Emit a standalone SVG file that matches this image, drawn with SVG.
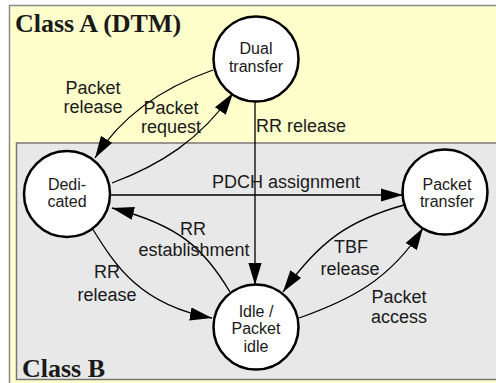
<svg xmlns="http://www.w3.org/2000/svg" width="496" height="383" viewBox="0 0 496 383">
<style>
.lbl{font-family:"Liberation Sans",Arial,sans-serif;font-size:18px;fill:#1a1a1a;text-anchor:middle}
.nd{font-family:"Liberation Sans",Arial,sans-serif;font-size:16px;fill:#1a1a1a;text-anchor:middle}
.ttl{font-family:"Liberation Serif","Times New Roman",serif;font-size:26px;font-weight:bold;fill:#1a1a1a}
.node{fill:#fff;stroke:#000;stroke-width:2.5}
.edge{fill:none;stroke:#000;stroke-width:1.3;marker-end:url(#ah)}
</style>
<defs>
<marker id="ah" markerUnits="userSpaceOnUse" markerWidth="22" markerHeight="14" viewBox="0 0 20 12" refX="20" refY="6" orient="auto">
<path d="M0,0 L20,6 L0,12 Z" fill="#000"/>
</marker>
</defs>
<rect x="9.5" y="5.5" width="500" height="400" fill="#ffffcc" stroke="#888" stroke-width="1.5"/>
<rect x="16.5" y="143" width="500" height="236.5" fill="#e8e8e8" stroke="#777" stroke-width="1.5"/>
<text class="ttl" x="15" y="32">Class A (DTM)</text>
<text class="ttl" x="22" y="377">Class B</text>
<g id="connectors">
<path class="edge" d="M213,70 C170,85 125,110 95,158"/>
<path class="edge" d="M112,183 C160,165 200,140 233,93"/>
<path class="edge" d="M255,102 L255,285"/>
<path class="edge" d="M111,195 L403,195"/>
<path class="edge" d="M404,205 C350,220 320,240 283,292"/>
<path class="edge" d="M299,318 C350,300 390,280 423,228"/>
<path class="edge" d="M230,292 C205,250 180,225 112,208"/>
<path class="edge" d="M92,228 C115,265 140,305 212,318"/>
</g>
<g id="labels">
<text class="lbl" x="93" y="94">Packet</text>
<text class="lbl" x="93" y="113">release</text>
<text class="lbl" x="171" y="114">Packet</text>
<text class="lbl" x="171" y="133">request</text>
<text class="lbl" x="256" y="132" style="text-anchor:start">RR release</text>
<text class="lbl" x="286" y="188">PDCH assignment</text>
<text class="lbl" x="193" y="235">RR</text>
<text class="lbl" x="194" y="256">establishment</text>
<text class="lbl" x="107" y="278">RR</text>
<text class="lbl" x="107" y="301">release</text>
<text class="lbl" x="351" y="253">TBF</text>
<text class="lbl" x="350" y="275">release</text>
<text class="lbl" x="399" y="303">Packet</text>
<text class="lbl" x="399" y="323">access</text>
</g>
<g id="dual">
<circle class="node" cx="256" cy="59" r="42.5"/>
<text class="nd" x="256" y="54">Dual</text>
<text class="nd" x="256" y="72">transfer</text>
</g>
<g id="dedicated">
<circle class="node" cx="67" cy="194" r="43"/>
<text class="nd" x="67" y="190">Dedi-</text>
<text class="nd" x="67" y="207">cated</text>
</g>
<g id="packet-transfer">
<circle class="node" cx="445" cy="192" r="42.5"/>
<text class="nd" x="447" y="190">Packet</text>
<text class="nd" x="447" y="207">transfer</text>
</g>
<g id="idle">
<circle class="node" cx="256" cy="327" r="42.5"/>
<text class="nd" x="256" y="317">Idle /</text>
<text class="nd" x="256" y="334">Packet</text>
<text class="nd" x="256" y="352">idle</text>
</g>
</svg>
